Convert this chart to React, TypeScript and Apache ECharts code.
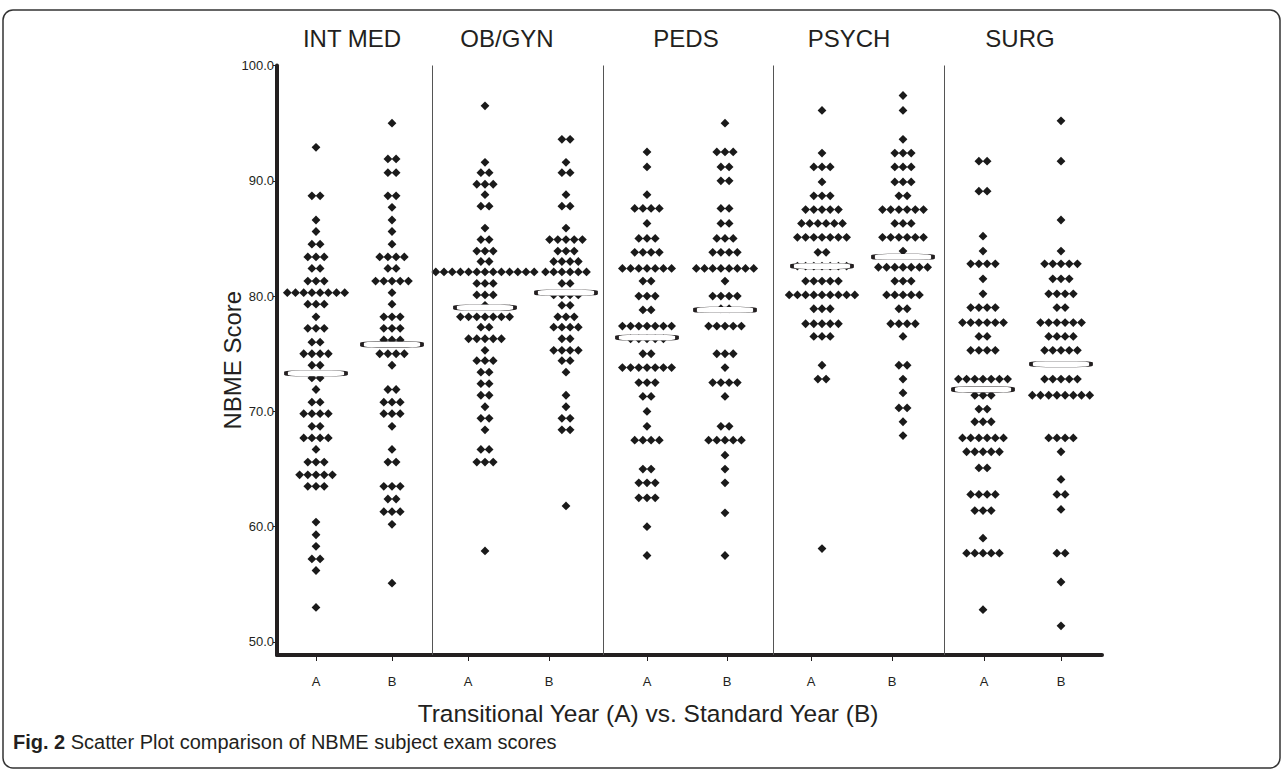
import React, { useEffect, useRef } from 'react';
import * as echarts from 'echarts';

// ---- layout (axis units along x: one unit = one pixel from the y axis) ----
const groups = ['INT MED', 'OB/GYN', 'PEDS', 'PSYCH', 'SURG'];
const groupTitleX = [352, 507, 686, 849, 1020];
const columnLabels = ['A', 'B', 'A', 'B', 'A', 'B', 'A', 'B', 'A', 'B'];
const columnCenters = [39, 115, 208, 289, 370, 448, 545, 626, 706, 784];
const tickPositions = [39, 115, 191, 272, 370, 450, 534, 615, 707, 784];
const separators = [155, 326, 496, 667];
const yTicks = [50, 60, 70, 80, 90, 100];

// ---- data: [score, number of students at that score] ----
const intMedA: [number, number][] = [
  [92.9, 1], [88.7, 2], [86.6, 1], [85.6, 1], [84.5, 2], [83.4, 3], [82.4, 2], [81.3, 3],
  [80.3, 8], [79.3, 3], [78.2, 1], [77.2, 3], [76.0, 2], [75.0, 4], [74.0, 2], [72.9, 2],
  [71.9, 1], [70.8, 2], [69.8, 4], [68.7, 2], [67.7, 4], [66.7, 1], [65.6, 3], [64.5, 5],
  [63.5, 3], [60.4, 1], [59.3, 1], [58.3, 1], [57.2, 2], [56.2, 1], [53.0, 1],
];
const intMedB: [number, number][] = [
  [95.0, 1], [91.9, 2], [90.7, 2], [88.7, 2], [87.7, 1], [86.6, 1], [85.6, 1], [84.5, 1],
  [83.4, 4], [82.4, 2], [81.3, 5], [80.3, 1], [79.3, 1], [78.2, 3], [77.2, 3], [76.2, 3],
  [75.0, 4], [74.0, 1], [71.9, 2], [70.8, 3], [69.8, 3], [68.7, 1], [66.7, 1], [65.6, 2],
  [63.5, 3], [62.4, 2], [61.3, 3], [60.2, 1], [55.1, 1],
];
const obgynA: [number, number][] = [
  [96.5, 1], [91.6, 1], [90.7, 2], [89.7, 3], [88.8, 1], [87.8, 2], [85.9, 1], [84.9, 2],
  [83.9, 3], [83.0, 2], [82.1, 13], [81.1, 3], [80.1, 3], [79.2, 1], [78.2, 7], [77.3, 2],
  [76.3, 5], [75.3, 1], [74.4, 3], [73.4, 2], [72.4, 2], [71.4, 2], [70.4, 1], [69.4, 2],
  [68.4, 1], [66.7, 2], [65.6, 3], [57.9, 1],
];
const obgynB: [number, number][] = [
  [93.6, 2], [91.6, 1], [90.7, 2], [88.8, 1], [87.8, 2], [85.9, 1], [84.9, 5], [83.9, 3],
  [83.0, 4], [82.1, 6], [81.1, 2], [80.1, 4], [79.2, 2], [78.2, 3], [77.3, 4], [76.3, 2],
  [75.3, 4], [74.4, 2], [73.4, 1], [71.4, 1], [70.4, 1], [69.4, 2], [68.4, 2], [61.8, 1],
];
const pedsA: [number, number][] = [
  [92.5, 1], [91.2, 1], [88.8, 1], [87.6, 4], [86.3, 1], [85.0, 3], [83.8, 4], [82.4, 7],
  [81.3, 2], [80.0, 3], [78.8, 2], [77.4, 7], [76.3, 5], [75.0, 2], [73.8, 7], [72.5, 3],
  [71.3, 2], [70.0, 1], [68.7, 1], [67.5, 4], [65.0, 2], [63.8, 3], [62.5, 3], [60.0, 1],
  [57.5, 1],
];
const pedsB: [number, number][] = [
  [95.0, 1], [92.5, 3], [91.2, 2], [90.0, 2], [87.6, 2], [86.3, 2], [85.0, 3], [83.8, 4],
  [82.4, 8], [81.3, 1], [80.0, 4], [78.9, 2], [77.4, 5], [75.0, 3], [73.8, 1], [72.5, 4],
  [71.3, 1], [68.7, 2], [67.5, 5], [66.2, 1], [65.0, 1], [63.8, 1], [61.2, 1], [57.5, 1],
];
const psychA: [number, number][] = [
  [96.1, 1], [92.4, 1], [91.2, 3], [89.9, 1], [88.7, 3], [87.5, 5], [86.3, 6], [85.1, 7],
  [83.8, 2], [82.6, 7], [81.3, 5], [80.1, 9], [78.9, 3], [77.6, 5], [76.5, 3], [74.0, 1],
  [72.8, 2], [58.1, 1],
];
const psychB: [number, number][] = [
  [97.4, 1], [96.1, 1], [93.6, 1], [92.4, 3], [91.2, 3], [89.9, 3], [88.7, 2], [87.5, 6],
  [86.3, 3], [85.1, 6], [83.9, 1], [82.5, 7], [81.3, 3], [80.1, 5], [78.9, 2], [77.6, 4],
  [76.5, 1], [74.0, 2], [72.8, 1], [71.6, 1], [70.3, 2], [69.1, 1], [67.9, 1],
];
const surgA: [number, number][] = [
  [91.7, 2], [89.1, 2], [85.2, 1], [83.9, 1], [82.8, 4], [81.5, 1], [80.2, 1], [79.0, 4],
  [77.7, 6], [76.5, 2], [75.3, 4], [72.8, 7], [71.4, 3], [70.2, 2], [69.1, 3], [67.7, 6],
  [66.5, 5], [65.1, 2], [62.8, 4], [61.4, 3], [59.0, 1], [57.7, 5], [52.8, 1],
];
const surgB: [number, number][] = [
  [95.2, 1], [91.7, 1], [86.6, 1], [83.9, 1], [82.8, 5], [81.5, 3], [80.2, 4], [79.0, 2],
  [77.7, 6], [76.5, 4], [75.3, 5], [72.8, 5], [71.4, 8], [67.7, 4], [66.5, 1], [64.1, 1],
  [62.8, 2], [61.5, 1], [57.7, 2], [55.2, 1], [51.4, 1],
];
const means = [73.3, 75.8, 79.0, 80.3, 76.4, 78.8, 82.6, 83.4, 71.9, 74.1];

const columns = [intMedA, intMedB, obgynA, obgynB, pedsA, pedsB, psychA, psychB, surgA, surgB];

const INK = '#231f20';
const FONT = 'Liberation Sans, Arial, sans-serif';
const DOT_GAP = 8.2;

export default function App() {
  const ref = useRef<HTMLDivElement>(null);
  useEffect(() => {
    if (!ref.current) return;
    const chart = echarts.init(ref.current, undefined, { renderer: 'svg' });

    const dotSeries = columns.map((col, ci) => {
      const data: any[] = [];
      col.forEach(([score, n]) => {
        for (let i = 0; i < n; i++) {
          data.push({ value: [columnCenters[ci], score], symbolOffset: [(i - (n - 1) / 2) * DOT_GAP, 0] });
        }
      });
      const s: any = {
        type: 'scatter',
        name: columnLabels[ci],
        data,
        symbol: 'diamond',
        symbolSize: 8.8,
        itemStyle: { color: '#1a1a1a', opacity: 1 },
        silent: true,
        z: 2,
      };
      if (ci === 0) {
        s.markLine = {
          silent: true,
          symbol: ['none', 'none'],
          label: { show: false },
          lineStyle: { color: '#555', width: 1, type: 'solid', opacity: 1 },
          data: separators.map((x) => ({ xAxis: x })),
        };
      }
      return s;
    });

    const option: any = {
      animation: false,
      backgroundColor: '#fff',
      grid: { left: 277, right: 182, top: 65.5, bottom: 117 },
      xAxis: {
        type: 'value',
        min: 0,
        max: 825,
        splitLine: { show: false },
        axisLine: { show: true, onZero: false, lineStyle: { color: INK, width: 4 } },
        axisTick: { show: true, customValues: tickPositions, length: 6, lineStyle: { color: INK, width: 1 } },
        axisLabel: {
          customValues: tickPositions,
          formatter: (v: number) => {
            const k = tickPositions.indexOf(v);
            return k >= 0 ? columnLabels[k] : '';
          },
          margin: 20,
          fontSize: 13,
          color: INK,
          fontFamily: FONT,
        },
      },
      yAxis: {
        type: 'value',
        min: 48.87,
        max: 100,
        splitLine: { show: false },
        axisLine: { show: true, onZero: false, lineStyle: { color: INK, width: 4 } },
        axisTick: { show: true, customValues: yTicks, length: 4, lineStyle: { color: INK, width: 1 } },
        axisLabel: {
          customValues: yTicks,
          formatter: (v: number) => v.toFixed(1),
          margin: 3,
          fontSize: 13,
          color: INK,
          fontFamily: FONT,
        },
        name: 'NBME Score',
        nameLocation: 'middle',
        nameGap: 33,
        nameMoveOverlap: false,
        nameTextStyle: { fontSize: 24, color: INK, fontFamily: FONT },
      },
      series: [
        ...dotSeries,
        {
          type: 'scatter',
          name: 'mean',
          data: columnCenters.map((c, i) => [c, means[i]]),
          symbol: 'roundRect',
          symbolSize: [60, 6],
          itemStyle: { color: '#ffffff', borderColor: INK, borderWidth: 1.2, opacity: 1 },
          silent: true,
          z: 5,
        },
      ],
      graphic: [
        {
          type: 'rect',
          shape: { x: 3, y: 10, width: 1277, height: 758, r: 10 },
          style: { fill: 'none', stroke: '#333', lineWidth: 1.5 },
          silent: true,
        },
        ...groups.map((g, i) => ({
          type: 'text',
          x: groupTitleX[i],
          y: 38,
          style: {
            text: g,
            fontSize: 24,
            fill: INK,
            fontFamily: FONT,
            align: 'center',
            verticalAlign: 'middle',
          },
        })),
        {
          type: 'text',
          x: 648,
          y: 713,
          style: {
            text: 'Transitional Year (A) vs. Standard Year (B)',
            fontSize: 24.5,
            fill: INK,
            fontFamily: FONT,
            align: 'center',
            verticalAlign: 'middle',
          },
        },
        {
          type: 'text',
          x: 13,
          y: 742,
          style: {
            text: '{b|Fig. 2} Scatter Plot comparison of NBME subject exam scores',
            fontSize: 20,
            fill: INK,
            fontFamily: FONT,
            align: 'left',
            verticalAlign: 'middle',
            rich: { b: { fontWeight: 'bold', fontSize: 20, fill: INK, fontFamily: FONT } },
          },
        },
      ],
    };
    chart.setOption(option);
    return () => chart.dispose();
  }, []);
  return <div ref={ref} style={{ position: 'fixed', left: 0, top: 0, width: 1284, height: 772 }} />;
}
